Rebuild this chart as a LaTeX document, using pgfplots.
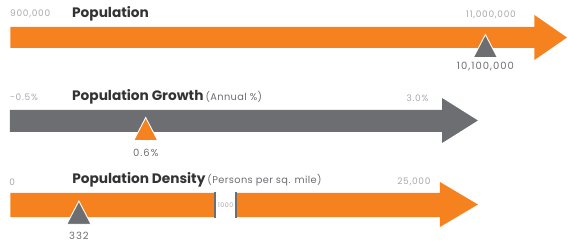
\documentclass[border=0pt]{standalone}
\usepackage{pgfplots}
\pgfplotsset{compat=1.18}
\usepackage{fontspec}
\setmainfont{Poppins}
\newfontfamily\lblfont{Poppins}[LetterSpace=8]
\newfontfamily\valfont{Poppins}[LetterSpace=10]
\newfontfamily\subfont{Poppins}[LetterSpace=4]
\definecolor{org}{HTML}{F5821F}
\definecolor{gry}{HTML}{6D6E71}
\definecolor{lbl}{HTML}{A7A9AC}
\definecolor{val}{HTML}{6D6E71}
\definecolor{ttl}{HTML}{333333}
\newcommand{\lbl}{\lblfont\fontsize{9}{10}\selectfont}
\newcommand{\val}{\valfont\fontsize{10}{11}\selectfont}
\newcommand{\ttlf}{\fontsize{13.7}{15}\selectfont\bfseries}
\newcommand{\subf}{\subfont\fontsize{9.8}{11}\selectfont\color{gry}}
\pgfplotsset{
  rowaxis/.style={at={(0,0)},anchor=south west,scale only axis,width=568pt,height=243pt,
    hide axis,clip=false,y dir=reverse,ymin=0,ymax=243},
  tri/.style={only marks,mark=triangle*,mark size=14pt,mark options={yscale=1.1,fill=#1,draw=white,line width=0.9pt}},
}
\begin{document}
\begin{tikzpicture}
\path[use as bounding box] (0,0) rectangle (568pt,243pt);
% Row 1: Population
\begin{axis}[rowaxis,xmin=700000,xmax=11700000]
\addplot[fill=org,draw=none] coordinates {(900000,27) (11050000,27) (11050000,15) (11680000,37.5) (11050000,60) (11050000,48) (900000,48)} --cycle;
\addplot[tri=gry] coordinates {(10100000,50)};
\node[anchor=west,font=\lbl,text=lbl,inner sep=0pt] at (axis cs:893000,14) {900,000};
\node[anchor=west,font=\ttlf,text=ttl,inner sep=0pt] at (axis cs:2094000,14) {Population};
\node[font=\lbl,text=lbl,inner sep=0pt] at (axis cs:10209000,15) {11,000,000};
\node[font=\val,text=val,inner sep=0pt] at (axis cs:10100000,67) {10,100,000};
\end{axis}
% Row 2: Population Growth
\begin{axis}[rowaxis,xmin=-0.58,xmax=4.02]
\addplot[fill=gry,draw=none] coordinates {(-0.5,110) (3.0,110) (3.0,98) (3.29,120.5) (3.0,143) (3.0,132) (-0.5,132)} --cycle;
\addplot[tri=org] coordinates {(0.6,133)};
\node[anchor=west,font=\lbl,text=lbl,inner sep=0pt] at (axis cs:-0.5,97) {-0.5\%};
\node[anchor=west,inner sep=0pt,text=ttl] at (axis cs:0.003,97) {{\ttlf Population Growth}\hspace{2pt}{\subf(Annual \%)}};
\node[font=\lbl,text=lbl,inner sep=0pt] at (axis cs:2.801,98) {3.0\%};
\node[font=\val,text=val,inner sep=0pt] at (axis cs:0.6,153) {0.6\%};
\end{axis}
% Row 3: Population Density (broken scale)
\begin{axis}[rowaxis,xmin=-50,xmax=2700]
\addplot[fill=org,draw=none] coordinates {(0,193) (2080,193) (2080,182) (2264,204.5) (2080,227) (2080,217) (0,217)} --cycle;
\addplot[fill=white,draw=none] coordinates {(991,190) (1093,190) (1093,220) (991,220)} --cycle;
\addplot[gry,line width=1.3pt] coordinates {(991,192) (991,218)};
\addplot[gry,line width=1.3pt] coordinates {(1093,192) (1093,218)};
\node[font=\lblfont\fontsize{6.3}{7}\selectfont,text=lbl,inner sep=0pt] at (axis cs:1042,205) {1000};
\addplot[tri=gry] coordinates {(332,216.5)};
\node[anchor=west,font=\lbl,text=lbl,inner sep=0pt] at (axis cs:-5,182) {0};
\node[anchor=west,inner sep=0pt,text=ttl] at (axis cs:299,180) {{\ttlf Population Density}\hspace{2pt}{\subf(Persons per sq. mile)}};
\node[font=\lbl,text=lbl,inner sep=0pt] at (axis cs:1954,182) {25,000};
\node[font=\val,text=val,inner sep=0pt] at (axis cs:332,236) {332};
\end{axis}
\end{tikzpicture}
\end{document}
